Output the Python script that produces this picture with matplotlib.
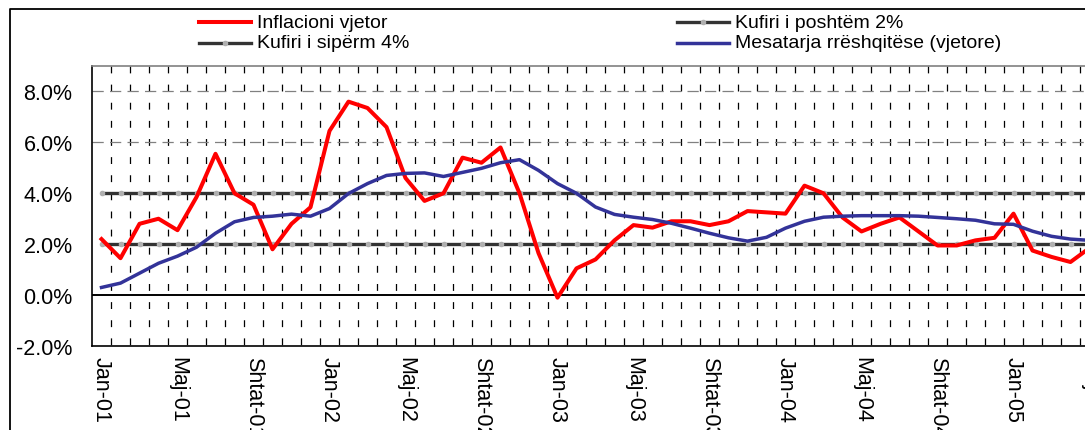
import matplotlib.pyplot as plt
from matplotlib.lines import Line2D
import numpy as np

plt.rcParams['font.family'] = ['Liberation Sans', 'DejaVu Sans']

# muajt dhe etiketat e boshtit x
muajt = ['Jan', 'Shk', 'Mar', 'Pri', 'Maj', 'Qer', 'Kor', 'Gush', 'Shtat', 'Tet', 'Nën', 'Dhj']
etiketat = [f'{m}-{v:02d}' for v in range(1, 6) for m in muajt][:53]

# inflacioni vjetor (%), Jan-01 ... Maj-05
inflacioni = [2.2, 1.45, 2.8, 3.0, 2.55, 3.85, 5.55, 4.0, 3.55, 1.8, 2.8, 3.45,
              6.45, 7.6, 7.35, 6.6, 4.6, 3.7, 4.0, 5.4, 5.2, 5.8, 4.0, 1.65,
              -0.1, 1.05, 1.4, 2.15, 2.75, 2.65, 2.9, 2.9, 2.75, 2.9, 3.3, 3.25,
              3.2, 4.3, 4.0, 3.05, 2.5, 2.8, 3.05, 2.5, 1.95, 1.95, 2.15, 2.25,
              3.2, 1.75, 1.5, 1.3, 1.85]

# mesatarja rreshqitese (vjetore)
mesatarja = [0.3, 0.47, 0.86, 1.25, 1.53, 1.88, 2.43, 2.88, 3.05, 3.1, 3.18, 3.1,
             3.4, 3.99, 4.38, 4.7, 4.78, 4.8, 4.66, 4.82, 4.98, 5.2, 5.32, 4.9,
             4.38, 4.0, 3.46, 3.17, 3.06, 2.97, 2.82, 2.63, 2.43, 2.25, 2.12, 2.27,
             2.63, 2.9, 3.06, 3.1, 3.12, 3.12, 3.12, 3.1, 3.05, 3.0, 2.94, 2.8,
             2.78, 2.51, 2.31, 2.2, 2.15]

kufiri_poshtem = [2.0] * 53
kufiri_siperm = [4.0] * 53

y_ticks = [-2, 0, 2, 4, 6, 8]

W, H = 1085, 431
fig = plt.figure(figsize=(W / 100, H / 100), dpi=100)

n = len(inflacioni)
x = np.arange(n)
x_max = n + 0.5  # boshti vazhdon pertej figures
px_per_cat = 19
left = 92
right = left + px_per_cat * (x_max + 0.5)
ax = fig.add_axes([left / W, 1 - 347 / H, (right - left) / W, (347 - 67) / H])
ax.set_xlim(-0.5, x_max)
ax.set_ylim(-2, 9)

# rrjeta
ax.vlines(np.arange(0.5, x_max, 1), 9, -2, colors='black', linewidth=0.9,
          linestyles=(0, (5.5, 9)), zorder=1)
ax.hlines([6, 8], -0.5, x_max, colors='#808080', linewidth=0.9,
          linestyles=(0, (9, 5)), zorder=1)
ax.axhline(0, color='black', linewidth=1.4, zorder=1.5)

# seritë
ax.plot(x, kufiri_poshtem, color='#333333', linewidth=2.4, marker='o',
        markersize=3, markerfacecolor='#b0b0b0', markeredgecolor='#b0b0b0', zorder=2)
ax.plot(x, kufiri_siperm, color='#333333', linewidth=2.4, marker='o',
        markersize=3, markerfacecolor='#b0b0b0', markeredgecolor='#b0b0b0', zorder=2)
ax.plot(x, inflacioni, color='#ff0000', linewidth=2.9, solid_joinstyle='round', zorder=3)
ax.plot(x, mesatarja, color='#333399', linewidth=2.5, solid_joinstyle='round', zorder=4)

ax.set_yticks(y_ticks)
ax.set_yticklabels([f'{v:.1f}%' for v in y_ticks], fontsize=15.5)
ax.tick_params(axis='y', length=0, pad=14)

pos = list(range(0, n, 4))
ax.set_xticks(pos)
ax.set_xticklabels([etiketat[i] for i in pos], rotation=-90, fontsize=15.5,
                   va='top', ha='center')
ax.tick_params(axis='x', length=0, pad=7)

for s in ['left', 'bottom']:
    ax.spines[s].set_color('black')
    ax.spines[s].set_linewidth(1.2)
ax.spines['top'].set_color('#808080')
ax.spines['top'].set_linewidth(1.2)

# kuadri i figures
fig.add_artist(Line2D([10 / W, 10 / W, 1.0], [0, 1 - 10 / H, 1 - 10 / H],
                      color='black', linewidth=1.3))

# legjenda (dy kolona)
def legend_item(x0, y0, label, color, lw, dot=False):
    yf = 1 - y0 / H
    xs = [x0 / W, (x0 + 26) / W, (x0 + 52) / W]
    line = Line2D(xs, [yf] * 3, color=color, linewidth=lw)
    fig.add_artist(line)
    if dot:
        fig.add_artist(Line2D([xs[1]], [yf], marker='o', markersize=3, linestyle='none',
                              markerfacecolor='#b0b0b0', markeredgecolor='#b0b0b0'))
    fig.text((x0 + 58) / W, yf, label, fontsize=14, va='center', ha='left')

legend_item(199, 23, 'Inflacioni vjetor', '#ff0000', 2.9)
legend_item(199, 44, 'Kufiri i sipërm 4%', '#333333', 2.4, dot=True)
legend_item(677, 23, 'Kufiri i poshtëm 2%', '#333333', 2.4, dot=True)
legend_item(677, 44, 'Mesatarja rrëshqitëse (vjetore)', '#333399', 2.5)

fig.savefig('out.png', dpi=100)
